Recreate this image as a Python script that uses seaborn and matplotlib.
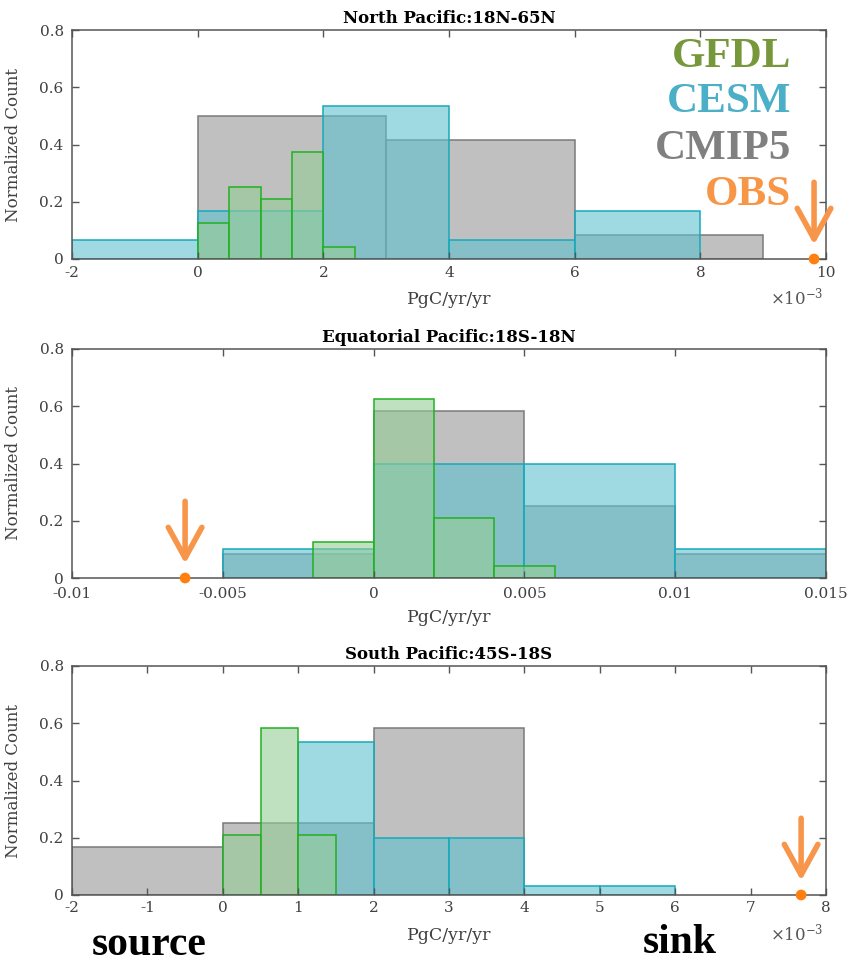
import numpy as np
import pandas as pd
import matplotlib
matplotlib.use("Agg")
import matplotlib.pyplot as plt
import seaborn as sns

# ---------------- data ----------------
# North Pacific (x in units of 1e-3 PgC/yr/yr)
north_cmip5_edges = [0, 3, 6, 9]
north_cmip5_vals = [0.5, 0.417, 0.083]
north_cesm_edges = [-2, 0, 2, 4, 6, 8]
north_cesm_vals = [0.067, 0.167, 0.533, 0.067, 0.167]
north_gfdl_edges = [0, 0.5, 1, 1.5, 2, 2.5]
north_gfdl_vals = [0.125, 0.25, 0.208, 0.375, 0.042]
north_obs = 9.81

# Equatorial Pacific (x in PgC/yr/yr)
eq_cmip5_edges = [-0.005, 0, 0.005, 0.01, 0.015]
eq_cmip5_vals = [0.083, 0.583, 0.25, 0.083]
eq_cesm_edges = [-0.005, 0, 0.005, 0.01, 0.015]
eq_cesm_vals = [0.1, 0.4, 0.4, 0.1]
eq_gfdl_edges = [-0.002, 0, 0.002, 0.004, 0.006]
eq_gfdl_vals = [0.125, 0.625, 0.208, 0.042]
eq_obs = -0.00625

# South Pacific (x in units of 1e-3 PgC/yr/yr)
south_cmip5_edges = [-2, 0, 2, 4]
south_cmip5_vals = [0.167, 0.25, 0.583]
south_cesm_edges = [1, 2, 3, 4, 5, 6]
south_cesm_vals = [0.533, 0.2, 0.2, 0.033, 0.033]
south_gfdl_edges = [0, 0.5, 1, 1.5]
south_gfdl_vals = [0.208, 0.583, 0.208]
south_obs = 7.67

titles = ["North Pacific:18N-65N", "Equatorial Pacific:18S-18N", "South Pacific:45S-18S"]
north_xticks = [-2, 0, 2, 4, 6, 8, 10]
north_xticklabels = ["-2", "0", "2", "4", "6", "8", "10"]
eq_xticks = [-0.01, -0.005, 0, 0.005, 0.01, 0.015]
eq_xticklabels = ["-0.01", "-0.005", "0", "0.005", "0.01", "0.015"]
south_xticks = [-2, -1, 0, 1, 2, 3, 4, 5, 6, 7, 8]
south_xticklabels = ["-2", "-1", "0", "1", "2", "3", "4", "5", "6", "7", "8"]
yticks = [0, 0.2, 0.4, 0.6, 0.8]
yticklabels = ["0", "0.2", "0.4", "0.6", "0.8"]
legend_labels = ["GFDL", "CESM", "CMIP5", "OBS"]

# ---------------- style ----------------
sns.set_style("white")
plt.rcParams["font.family"] = ["DejaVu Serif"]
plt.rcParams["mathtext.fontset"] = "dejavuserif"

C_CMIP5_FACE = (150/255, 150/255, 150/255)
C_CMIP5_EDGE = "#7a7a7a"
C_CESM_FACE = (95/255, 193/255, 207/255)
C_CESM_EDGE = "#18a9bb"
C_GFDL_FACE = (150/255, 205/255, 150/255)
C_GFDL_EDGE = "#22b022"
C_ARROW = "#f7964a"
C_DOT = "#ff7f10"
AX_COL = "#555555"
TXT_COL = "#404040"

fig = plt.figure(figsize=(8.52, 9.65), dpi=100)

W, H = 852, 965
ax_left, ax_width = 72 / W, 754 / W
ax_h = 229 / H
bottoms = [1 - 259 / H, 1 - 578 / H, 1 - 895 / H]

panels = [
    dict(cm=(north_cmip5_edges, north_cmip5_vals), ce=(north_cesm_edges, north_cesm_vals),
         gf=(north_gfdl_edges, north_gfdl_vals), obs=north_obs, xlim=(-2, 10),
         xt=north_xticks, xtl=north_xticklabels, exp=True, xpad=5),
    dict(cm=(eq_cmip5_edges, eq_cmip5_vals), ce=(eq_cesm_edges, eq_cesm_vals),
         gf=(eq_gfdl_edges, eq_gfdl_vals), obs=eq_obs, xlim=(-0.01, 0.015),
         xt=eq_xticks, xtl=eq_xticklabels, exp=False, xpad=6.5),
    dict(cm=(south_cmip5_edges, south_cmip5_vals), ce=(south_cesm_edges, south_cesm_vals),
         gf=(south_gfdl_edges, south_gfdl_vals), obs=south_obs, xlim=(-2, 8),
         xt=south_xticks, xtl=south_xticklabels, exp=True, xpad=4.5),
]


def draw_hist(ax, edges, vals, face, edge):
    e = [float(v) for v in edges]
    centers = [(a + b) / 2 for a, b in zip(e[:-1], e[1:])]
    df = pd.DataFrame({"x": centers, "w": [float(v) for v in vals]})
    sns.histplot(data=df, x="x", weights="w", bins=e, ax=ax, stat="count",
                 color=face, alpha=0.6, edgecolor=edge, linewidth=1.1)


axes = []
for i, p in enumerate(panels):
    ax = fig.add_axes([ax_left, bottoms[i], ax_width, ax_h])
    axes.append(ax)
    draw_hist(ax, *p["cm"], C_CMIP5_FACE, C_CMIP5_EDGE)
    draw_hist(ax, *p["ce"], C_CESM_FACE, C_CESM_EDGE)
    draw_hist(ax, *p["gf"], C_GFDL_FACE, C_GFDL_EDGE)

    # OBS marker and arrow
    ax.annotate("", xy=(p["obs"], 0.05), xytext=(p["obs"], 0.268),
                arrowprops=dict(arrowstyle="->,head_length=1.0,head_width=0.55",
                                lw=4, color=C_ARROW, shrinkA=0, shrinkB=0,
                                mutation_scale=22))
    sns.scatterplot(x=[p["obs"]], y=[0], ax=ax, color=C_DOT, s=60,
                    edgecolor="none", clip_on=False, zorder=6, legend=False)

    ax.set_xlim(*p["xlim"])
    ax.set_ylim(0, 0.8)
    ax.set_xticks(p["xt"])
    ax.set_xticklabels(p["xtl"])
    ax.set_yticks(yticks)
    ax.set_yticklabels(yticklabels)
    ax.tick_params(direction="in", length=5, width=1, colors=AX_COL,
                   labelcolor=TXT_COL, labelsize=11, top=True, right=True,
                   bottom=True, left=True)
    ax.tick_params(axis="x", pad=p["xpad"])
    ax.tick_params(axis="y", pad=6)
    for s in ax.spines.values():
        s.set_visible(True)
        s.set_color(AX_COL)
        s.set_linewidth(1.1)
    ax.set_title(titles[i], fontsize=12, fontweight="bold", pad=5, color="black")
    ax.set_ylabel("Normalized Count", fontsize=12, color=TXT_COL)
    ax.yaxis.set_label_coords(-0.066, 0.5)
    ax.set_xlabel("PgC/yr/yr", fontsize=12.5, color=TXT_COL)
    ax.xaxis.set_label_coords(0.5, -40 / 229)
    ax.xaxis.label.set_va("center")
    if p["exp"]:
        ax.text(0.926, -38 / 229, r"$\times10^{-3}$", transform=ax.transAxes,
                fontsize=12, color=AX_COL, ha="left", va="center")
    ax.set_axisbelow(False)

# legend text in top panel
leg_colors = ["#76983a", "#4bafc8", "#808080", "#f79646"]
leg_y = [0.838, 0.642, 0.437, 0.236]
for lab, col, y in zip(legend_labels, leg_colors, leg_y):
    axes[0].text(0.954, y, lab, transform=axes[0].transAxes, ha="right",
                 va="baseline", fontsize=31, fontweight="bold", color=col,
                 family="Liberation Serif")

fig.text(92 / W, 1 - 955 / H, "source", fontsize=30, fontweight="bold",
         family="Liberation Serif", color="black", ha="left", va="baseline")
fig.text(643 / W, 1 - 953 / H, "sink", fontsize=30, fontweight="bold",
         family="Liberation Serif", color="black", ha="left", va="baseline")

fig.savefig("out.png", dpi=100)
